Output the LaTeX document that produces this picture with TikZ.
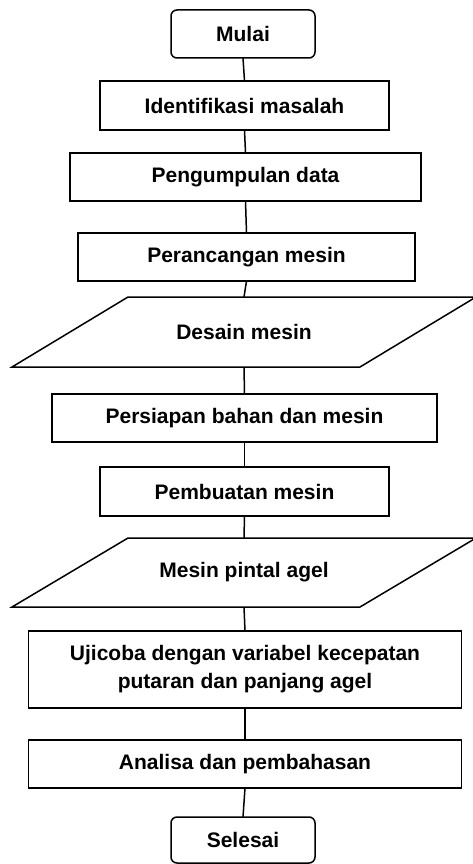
\documentclass[tikz,border=0pt]{standalone}
\usepackage{fontspec}
\setmainfont{Liberation Sans}
\begin{document}
\begin{tikzpicture}[x=1pt,y=-1pt,
  every node/.style={font=\fontsize{21}{28}\selectfont\bfseries, inner sep=0pt, outer sep=0pt, align=center},
  box/.style={draw, line width=1.5pt, rectangle},
  term/.style={draw, line width=1.5pt, rectangle, rounded corners=6pt},
  io/.style={rectangle},
  link/.style={line width=1.5pt},
  ioshape/.style={draw, line width=1.5pt, line join=miter}
]
\useasboundingbox (0,0) rectangle (472,864);
\node[term, minimum width=144pt, minimum height=48pt] (mulai) at (243,34) {Mulai};
\node[box, minimum width=289pt, minimum height=49pt] (ident) at (244.5,105.5) {Identifikasi masalah};
\node[box, minimum width=351pt, minimum height=48pt] (kumpul) at (245.5,177) {Pengumpulan data};
\node[box, minimum width=337pt, minimum height=48pt] (rancang) at (246.5,257) {Perancangan mesin};
\node[io, minimum width=348pt, minimum height=70pt] (desain) at (244,332) {Desain mesin};
\node[box, minimum width=385pt, minimum height=48pt] (siap) at (244.5,418) {Persiapan bahan dan mesin};
\node[box, minimum width=289pt, minimum height=49pt] (buat) at (244.5,491.5) {Pembuatan mesin};
\node[io, minimum width=348pt, minimum height=69pt] (pintal) at (244,572.5) {Mesin pintal agel};
\node[box, minimum width=433pt, minimum height=77pt] (uji) at (245,669.5) {Ujicoba dengan variabel kecepatan\\putaran dan panjang agel};
\node[box, minimum width=433pt, minimum height=48pt] (analisa) at (245,764) {Analisa dan pembahasan};
\node[term, minimum width=144pt, minimum height=46pt] (selesai) at (243,840) {Selesai};

\foreach \n in {desain,pintal}{
  \draw[ioshape] ([xshift=-58pt]\n.south west) -- ([xshift=58pt]\n.north west) -- ([xshift=58pt]\n.north east) -- ([xshift=-58pt]\n.south east) -- cycle;
}

\draw[link] (mulai.south) -- (ident.north);
\draw[link] (ident.south) -- (kumpul.north);
\draw[link] (kumpul.south) -- (rancang.north);
\draw[link] (rancang.south) -- (desain.north);
\draw[link] (desain.south) -- (siap.north);
\draw[link] (siap.south) -- (buat.north);
\draw[link] (buat.south) -- (pintal.north);
\draw[link] (pintal.south) -- (uji.north);
\draw[link] (uji.south) -- (analisa.north);
\draw[link] (analisa.south) -- (selesai.north);
\end{tikzpicture}
\end{document}
